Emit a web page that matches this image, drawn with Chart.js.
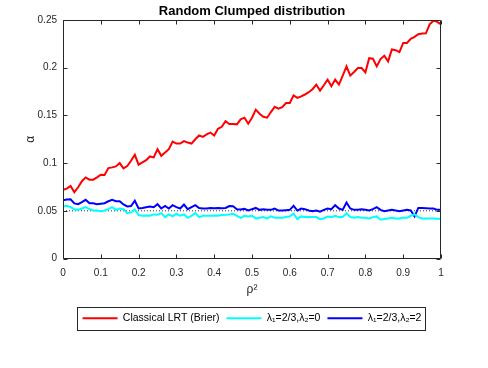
<!DOCTYPE html>
<html><head><meta charset="utf-8">
<script src="https://cdn.jsdelivr.net/npm/chart.js@4"></script>
<style>html,body{margin:0;padding:0;background:#fff}canvas{display:block}</style>
</head><body>
<canvas id="c" width="488" height="368"></canvas>
<script>
const rho2 = [0,0.01,0.02,0.03,0.04,0.05,0.06,0.07,0.08,0.09,0.1,0.11,0.12,0.13,0.14,0.15,0.16,0.17,0.18,0.19,0.2,0.21,0.22,0.23,0.24,0.25,0.26,0.27,0.28,0.29,0.3,0.31,0.32,0.33,0.34,0.35,0.36,0.37,0.38,0.39,0.4,0.41,0.42,0.43,0.44,0.45,0.46,0.47,0.48,0.49,0.5,0.51,0.52,0.53,0.54,0.55,0.56,0.57,0.58,0.59,0.6,0.61,0.62,0.63,0.64,0.65,0.66,0.67,0.68,0.69,0.7,0.71,0.72,0.73,0.74,0.75,0.76,0.77,0.78,0.79,0.8,0.81,0.82,0.83,0.84,0.85,0.86,0.87,0.88,0.89,0.9,0.91,0.92,0.93,0.94,0.95,0.96,0.97,0.98,0.99,1];

const classicalLRT = [0.0719,0.0733,0.076,0.0695,0.0747,0.081,0.085,0.0826,0.0826,0.085,
0.0878,0.0875,0.0948,0.0955,0.0965,0.100,0.0944,0.0969,0.1024,0.1087,
0.0983,0.1007,0.103,0.107,0.106,0.1146,0.1076,0.111,0.1146,0.1226,
0.1205,0.1205,0.123,0.1215,0.1205,0.125,0.129,0.1274,0.130,0.132,
0.129,0.136,0.138,0.144,0.141,0.141,0.1406,0.1458,0.1476,0.1413,
0.1476,0.156,0.1517,0.1486,0.1476,0.1535,0.159,0.157,0.1587,0.163,
0.163,0.171,0.1684,0.170,0.1719,0.1743,0.1775,0.1823,0.176,0.1816,
0.1875,0.1806,0.1875,0.1823,0.1917,0.2014,0.1917,0.1955,0.1997,0.1997,
0.1951,0.210,0.2094,0.2014,0.209,0.2125,0.2066,0.2191,0.2184,0.2163,
0.226,0.226,0.2302,0.2323,0.2351,0.2358,0.236,0.2455,0.2493,0.248,0.2455];

const lam23_0 = [0.0545,0.0552,0.0538,0.0517,0.051,0.0524,0.0538,0.0517,0.0503,0.0503,
0.0496,0.0503,0.0517,0.0538,0.051,0.0524,0.0517,0.0476,0.0483,0.0515,
0.0455,0.0448,0.0451,0.0448,0.0462,0.0458,0.0476,0.0434,0.0462,0.0441,
0.0469,0.0448,0.0462,0.0427,0.0448,0.0476,0.0434,0.0448,0.0448,0.0448,
0.0451,0.0448,0.0455,0.0458,0.0462,0.0469,0.0448,0.0427,0.0448,0.0441,
0.0448,0.042,0.0427,0.0434,0.042,0.0441,0.0427,0.0427,0.0427,0.0434,
0.0441,0.0469,0.0413,0.0441,0.0434,0.0434,0.0434,0.0434,0.0413,0.042,
0.0441,0.0434,0.0448,0.0434,0.0434,0.0476,0.0434,0.0427,0.0434,0.0427,
0.0427,0.042,0.0434,0.0441,0.0406,0.0413,0.042,0.0427,0.042,0.042,
0.0427,0.0427,0.0448,0.0462,0.0434,0.042,0.042,0.042,0.042,0.0417,0.0413];

const lam23_2 = [0.061,0.0618,0.062,0.0578,0.057,0.059,0.0615,0.058,0.0578,0.057,
0.0575,0.058,0.060,0.0615,0.060,0.060,0.0566,0.0545,0.055,0.0605,
0.0525,0.053,0.0538,0.0545,0.0538,0.057,0.0524,0.055,0.0524,0.0559,
0.0538,0.0524,0.0566,0.0517,0.0538,0.0559,0.053,0.0524,0.0524,0.053,
0.0528,0.053,0.0528,0.053,0.055,0.0547,0.0517,0.0514,0.052,0.0503,
0.0517,0.053,0.051,0.0517,0.051,0.051,0.0524,0.0503,0.0503,0.0507,
0.051,0.0552,0.0503,0.0524,0.0517,0.0503,0.0496,0.0503,0.049,0.051,
0.0524,0.0517,0.0559,0.0524,0.051,0.0587,0.0524,0.051,0.051,0.0517,
0.051,0.0503,0.0517,0.0538,0.051,0.0496,0.0503,0.051,0.0503,0.0496,
0.0503,0.051,0.0503,0.0441,0.053,0.053,0.0528,0.0524,0.0524,0.051,0.051];

const refX = [0, 1];
const refY = [0.05, 0.05];

const xTickValues = [0,0.1,0.2,0.3,0.4,0.5,0.6,0.7,0.8,0.9,1];
const xTickLabels = ['0','0.1','0.2','0.3','0.4','0.5','0.6','0.7','0.8','0.9','1'];
const yTickValues = [0,0.05,0.1,0.15,0.2,0.25];
const yTickLabels = ['0','0.05','0.1','0.15','0.2','0.25'];

const seriesNames = ['Classical LRT (Brier)','\u03bb\u2081=2/3,\u03bb\u2082=0','\u03bb\u2081=2/3,\u03bb\u2082=2'];

const FONT = "'Liberation Sans', Arial, Helvetica, sans-serif";
const AX = '#262626';

function pts(xs, ys){ return xs.map((x,i)=>({x:x, y:ys[i]})); }

const frame = {
  id: 'frame',
  afterDatasetsDraw(chart){
    const ctx = chart.ctx, a = chart.chartArea;
    const xs = chart.scales.x, ys = chart.scales.y;
    ctx.save();
    ctx.strokeStyle = AX; ctx.lineWidth = 1;
    const L = Math.round(a.left)+0.5, R = Math.round(a.right)-0.5, T = Math.round(a.top)+0.5, B = Math.round(a.bottom)-0.5;
    ctx.beginPath();
    ctx.rect(L, T, R-L, B-T);
    const tk = 4;
    xTickValues.forEach(v=>{
      const px = Math.round(xs.getPixelForValue(v)) + 0.5;
      ctx.moveTo(px, B); ctx.lineTo(px, B-tk);
      ctx.moveTo(px, T); ctx.lineTo(px, T+tk);
    });
    yTickValues.forEach(v=>{
      const py = Math.round(ys.getPixelForValue(v)) + 0.5;
      ctx.moveTo(L, py); ctx.lineTo(L+tk, py);
      ctx.moveTo(R, py); ctx.lineTo(R-tk, py);
    });
    ctx.stroke();
    ctx.restore();
  },
  afterDraw(chart){
    const lg = chart.legend;
    if(!lg || !lg.legendHitBoxes || !lg.legendHitBoxes.length) return;
    const hb = lg.legendHitBoxes;
    const l = Math.min(...hb.map(h=>h.left)) - 6;
    const r = Math.max(...hb.map(h=>h.left + h.width)) + 3;
    const cy = hb[0].top + hb[0].height/2;
    const ctx = chart.ctx;
    ctx.save();
    ctx.strokeStyle = AX; ctx.lineWidth = 1;
    ctx.strokeRect(Math.round(l)+0.5, Math.round(cy-11.5)+0.5, Math.round(r-l), 23);
    ctx.restore();
  }
};

new Chart(document.getElementById('c'), {
  type: 'line',
  data: {
    datasets: [
      {label: seriesNames[0], data: pts(rho2, classicalLRT), borderColor: '#ff0000', backgroundColor: '#ff0000', borderWidth: 2, pointRadius: 0, tension: 0, fill: false},
      {label: seriesNames[1], data: pts(rho2, lam23_0), borderColor: '#00ffff', backgroundColor: '#00ffff', borderWidth: 2, pointRadius: 0, tension: 0, fill: false},
      {label: seriesNames[2], data: pts(rho2, lam23_2), borderColor: '#0000ff', backgroundColor: '#0000ff', borderWidth: 2, pointRadius: 0, tension: 0, fill: false},
      {label: 'ref', data: pts(refX, refY), borderColor: '#333333', borderWidth: 1, borderDash: [1,2], pointRadius: 0, fill: false}
    ]
  },
  options: {
    responsive: false,
    animation: false,
    events: [],
    layout: {padding: {left: 0, right: 47, top: 0, bottom: 34.5}},
    scales: {
      x: {
        type: 'linear', min: 0, max: 1,
        grid: {display: false, drawTicks: false}, border: {display: false},
        afterBuildTicks(s){ s.ticks = xTickValues.map(v=>({value:v})); },
        afterFit(s){ s.height = 47.5; },
        ticks: {
          padding: 8.5, color: AX, maxRotation: 0, autoSkip: false,
          font: {family: FONT, size: 10},
          callback(v){ const i = xTickValues.indexOf(v); return i>=0 ? xTickLabels[i] : ''; }
        },
        title: {display: true, text: '\u03c1\u00b2', color: AX, font: {family: FONT, size: 12}, padding: {top: 0, bottom: 8.8}}
      },
      y: {
        type: 'linear', min: 0, max: 0.25,
        grid: {display: false, drawTicks: false}, border: {display: false},
        afterBuildTicks(s){ s.ticks = yTickValues.map(v=>({value:v})); },
        afterFit(s){ s.width = 63; },
        ticks: {
          padding: 6, color: AX, autoSkip: false,
          font: {family: FONT, size: 10},
          callback(v){ const i = yTickValues.indexOf(v); return i>=0 ? yTickLabels[i] : ''; }
        },
        title: {display: true, text: '\u03b1', color: AX, font: {family: FONT, size: 12}, padding: {top: 23.5, bottom: 0}}
      }
    },
    plugins: {
      title: {
        display: true, text: 'Random Clumped distribution', color: '#000',
        fullSize: false,
        font: {family: FONT, size: 13, weight: 'bold', lineHeight: 1.2},
        padding: {top: 4, bottom: 0.4}
      },
      legend: {
        display: true, position: 'bottom', fullSize: false,
        labels: {
          usePointStyle: true, pointStyle: 'line', pointStyleWidth: 35,
          boxHeight: 10, padding: 7, color: '#000',
          font: {family: FONT, size: 10.5},
          filter(item){ return item.datasetIndex < 3; }
        }
      },
      tooltip: {enabled: false}
    }
  },
  plugins: [frame]
});
</script>
</body></html>
